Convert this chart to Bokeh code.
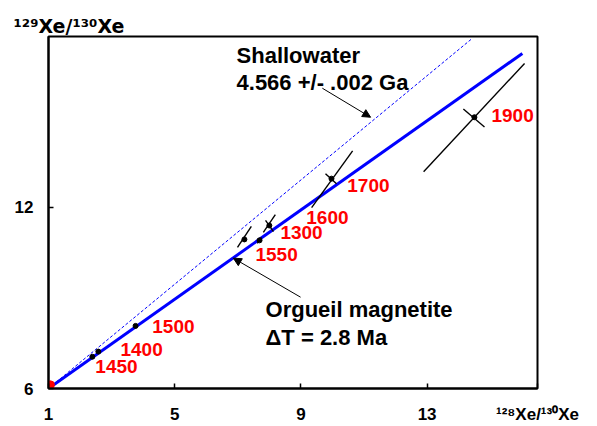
from bokeh.plotting import figure
from bokeh.models import Range1d, FixedTicker, Label, Arrow, NormalHead, ColumnDataSource
from bokeh.core.properties import value
from bokeh.embed import file_html
from bokeh.resources import INLINE

FONT = "Liberation Sans"

# ---------------- data ----------------
x_ticks = [1, 5, 9, 13]
y_ticks = [6, 12]
x_title = "\u00b9\u00b2\u2078Xe/\u00b9\u00b3\u2070Xe"   # 128Xe/130Xe
y_title = "\u00b9\u00b2\u2079Xe/\u00b9\u00b3\u2070Xe"   # 129Xe/130Xe

# Orgueil magnetite correlation line and Shallowater reference line
orgueil_x = [1.0, 16.02]
orgueil_y = [6.0, 17.08]
shallow_x = [1.0, 14.4]
shallow_y = [6.0, 17.55]

# trapped / origin composition
origin_x = [1.06]
origin_y = [6.12]

# step-heating points (centres)
pt_x = [2.39, 2.58, 3.76, 7.21, 7.69, 8.00, 9.97, 14.50]
pt_y = [7.05, 7.22, 8.07, 10.93, 10.90, 11.39, 12.94, 14.97]

# error ellipses drawn as major-axis bars
bar_x0 = [6.99, 7.62, 7.81, 9.34, 12.89]
bar_y0 = [10.67, 10.80, 11.16, 11.98, 13.17]
bar_x1 = [7.43, 7.75, 8.19, 10.64, 16.09]
bar_y1 = [11.36, 11.00, 11.75, 13.86, 16.75]
# minor-axis cross bars
crs_x0 = [7.88, 9.78, 14.15]
crs_y0 = [11.56, 13.10, 15.24]
crs_x1 = [8.13, 10.13, 14.82]
crs_y1 = [11.19, 12.77, 14.65]

# temperature step labels
temp_text = ["1450", "1400", "1500", "1550", "1300", "1600", "1700", "1900"]
temp_x = [3.155, 3.95, 4.96, 8.23, 9.02, 9.84, 11.14, 15.71]
temp_y = [6.72, 7.28, 8.04, 10.44, 11.16, 11.65, 12.71, 15.04]

X_MIN, X_MAX = 1, 16.5
Y_MIN, Y_MAX = 6, 17.64

# ---------------- figure ----------------
p = figure(width=597, height=426, output_backend="svg", toolbar_location=None,
           x_range=Range1d(X_MIN, X_MAX), y_range=Range1d(Y_MIN, Y_MAX),
           min_border_left=48, min_border_right=60, min_border_top=36, min_border_bottom=36)
p.background_fill_color = "white"
p.border_fill_color = "white"
p.outline_line_color = "black"
p.outline_line_width = 2
p.xgrid.visible = False
p.ygrid.visible = False

# y-axis title, written horizontally above the top-left corner
p.title.text = y_title
p.title.align = "left"
p.title.offset = -35
p.title.standoff = 0
p.title.text_font = "DejaVu Sans"
p.title.text_font_style = "bold"
p.title.text_font_size = "19px"
p.title.text_color = "black"

for ax in (p.xaxis[0], p.yaxis[0]):
    ax.axis_line_width = 2
    ax.axis_line_color = "black"
    ax.major_tick_in = 5
    ax.major_tick_out = 0
    ax.major_tick_line_width = 1.5
    ax.minor_tick_line_color = None
    ax.major_label_text_font = FONT
    ax.major_label_text_font_style = "bold"
    ax.major_label_text_font_size = "17px"
    ax.major_label_text_color = "black"
# x-axis title sits in the tick-label row at the right end of the axis
p.xaxis[0].ticker = FixedTicker(ticks=x_ticks + [X_MAX])
p.xaxis[0].major_label_overrides = {X_MAX: x_title}
p.yaxis[0].ticker = FixedTicker(ticks=y_ticks)
p.xaxis[0].major_label_standoff = 16
p.yaxis[0].major_label_standoff = 15

# lines
p.line(shallow_x, shallow_y, line_color="blue", line_width=1, line_dash="3 2")
p.line(orgueil_x, orgueil_y, line_color="blue", line_width=3)

# error bars
p.segment(bar_x0, bar_y0, bar_x1, bar_y1, line_color="black", line_width=1.4)
p.segment(crs_x0, crs_y0, crs_x1, crs_y1, line_color="black", line_width=1.4)
p.scatter(pt_x, pt_y, size=5, color="black")
p.scatter(origin_x, origin_y, size=8, color="red")

# temperature labels
src = ColumnDataSource(dict(x=temp_x, y=temp_y, t=temp_text))
p.text(x="x", y="y", text="t", source=src, text_color="red",
       text_font=value(FONT), text_font_style="bold", text_font_size="19px",
       text_align="center", text_baseline="middle")

# annotations
def lab(x, y, t, size):
    p.add_layout(Label(x=x, y=y, text=t, text_font=FONT, text_font_style="bold",
                       text_font_size=size, text_color="black", text_align="left",
                       text_baseline="alphabetic"))

lab(6.96, 17.01, "Shallowater", "22px")
lab(6.96, 16.125, "4.566 +/- .002 Ga", "22px")
lab(7.88, 8.60, "Orgueil magnetite", "22px")
lab(7.88, 7.70, "\u0394T = 2.8 Ma", "22px")

# arrows
p.add_layout(Arrow(x_start=9.68, y_start=15.93, x_end=11.21, y_end=14.97,
                   line_width=1, line_color="black",
                   end=NormalHead(size=8, fill_color="black", line_color="black")))
p.add_layout(Arrow(x_start=8.99, y_start=9.02, x_end=6.86, y_end=10.31,
                   line_width=1, line_color="black",
                   end=NormalHead(size=8, fill_color="black", line_color="black")))

open("out.html", "w").write(file_html(p, INLINE))
